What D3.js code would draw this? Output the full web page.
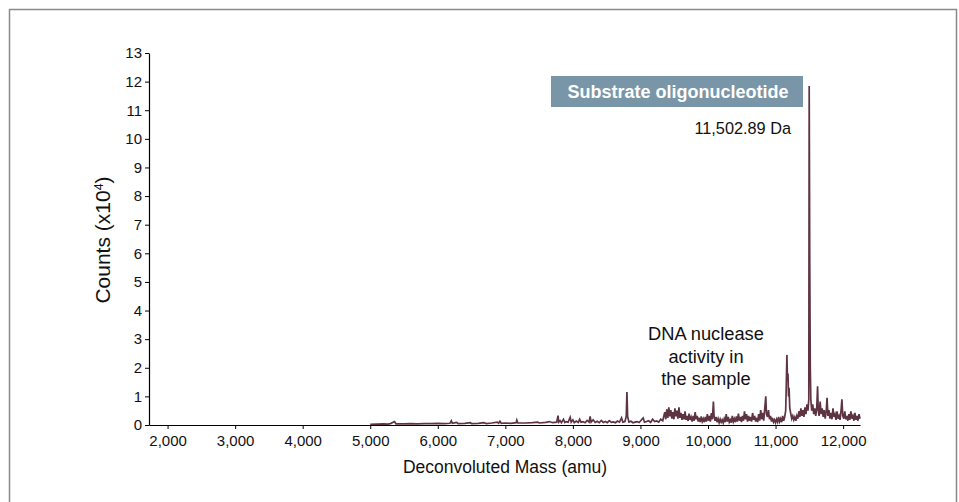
<!DOCTYPE html>
<html>
<head>
    <meta charset="utf-8">
    <script src="https://d3js.org/d3.v7.min.js"></script>
    <style>
        body { margin: 0; background: #fff; }
        svg text { font-family: "Liberation Sans", Arial, sans-serif; }
    </style>
</head>
<body>
    <svg id="chart"></svg>

    <script>
        // Mass spectrum values, counts in units of 10^4
        // flat baseline part, 5,000 - 7,760 amu
        const baselinePts = [
            [5000, 0.02], [5100, 0.03], [5200, 0.04], [5260, 0.03], [5300, 0.05], [5360, 0.12], [5380, 0.04],
            [5500, 0.04], [5600, 0.05], [5700, 0.04], [5800, 0.05], [5900, 0.05], [6000, 0.06], [6100, 0.05],
            [6180, 0.06], [6200, 0.15], [6215, 0.06], [6280, 0.09], [6300, 0.05], [6400, 0.06], [6480, 0.08],
            [6500, 0.05], [6600, 0.06], [6680, 0.08], [6720, 0.05], [6800, 0.07], [6880, 0.1], [6900, 0.06],
            [6920, 0.13], [6940, 0.06], [7000, 0.07], [7080, 0.06], [7160, 0.08], [7170, 0.17], [7185, 0.07],
            [7300, 0.07], [7400, 0.08], [7480, 0.1], [7500, 0.07], [7600, 0.09], [7650, 0.12], [7700, 0.08],
            [7760, 0.1]
        ];
        // low noise, 7,780 - 9,330 amu
        const lowNoisePts = [
            [7780, 0.33], [7790, 0.1], [7810, 0.15], [7830, 0.08], [7860, 0.2], [7880, 0.09], [7900, 0.12],
            [7930, 0.1], [7960, 0.27], [7975, 0.1], [8000, 0.18], [8020, 0.08], [8050, 0.14], [8080, 0.09],
            [8100, 0.2], [8120, 0.1], [8150, 0.12], [8180, 0.08], [8210, 0.16], [8240, 0.1], [8255, 0.3],
            [8270, 0.1], [8300, 0.18], [8330, 0.09], [8360, 0.13], [8390, 0.08], [8420, 0.16], [8450, 0.09],
            [8480, 0.12], [8510, 0.08], [8540, 0.15], [8570, 0.09], [8600, 0.11], [8630, 0.08], [8660, 0.14],
            [8690, 0.1], [8720, 0.25], [8740, 0.1], [8770, 0.12], [8790, 0.3], [8800, 1.15], [8810, 0.3],
            [8830, 0.1], [8860, 0.13], [8890, 0.08], [8920, 0.1], [8950, 0.12], [8980, 0.09], [9000, 0.14],
            [9040, 0.25], [9060, 0.1], [9090, 0.12], [9120, 0.15], [9150, 0.09], [9180, 0.2], [9210, 0.12],
            [9240, 0.14], [9270, 0.1], [9300, 0.2], [9330, 0.15]
        ];
        // busy region, 9,360 - 11,135 amu
        const busyPts = [
            [9360, 0.45], [9375, 0.2], [9390, 0.55], [9405, 0.25], [9420, 0.62], [9435, 0.3], [9450, 0.52],
            [9465, 0.22], [9480, 0.45], [9495, 0.2], [9510, 0.58], [9525, 0.3], [9540, 0.5], [9555, 0.22],
            [9570, 0.62], [9585, 0.25], [9600, 0.42], [9615, 0.18], [9630, 0.38], [9645, 0.2], [9660, 0.48],
            [9675, 0.18], [9690, 0.32], [9705, 0.14], [9720, 0.4], [9735, 0.18], [9750, 0.28], [9765, 0.12],
            [9780, 0.32], [9795, 0.15], [9810, 0.45], [9825, 0.2], [9840, 0.32], [9855, 0.12], [9870, 0.25],
            [9885, 0.1], [9900, 0.3], [9915, 0.12], [9930, 0.22], [9945, 0.1], [9960, 0.28], [9975, 0.12],
            [9990, 0.38], [10005, 0.15], [10020, 0.32], [10035, 0.12], [10050, 0.42], [10065, 0.2], [10080, 0.82],
            [10090, 0.3], [10105, 0.15], [10120, 0.28], [10135, 0.1], [10150, 0.22], [10165, 0.08], [10180, 0.2],
            [10195, 0.1], [10210, 0.18], [10225, 0.08], [10240, 0.22], [10255, 0.1], [10270, 0.38], [10285, 0.12],
            [10300, 0.28], [10315, 0.1], [10330, 0.18], [10345, 0.08], [10360, 0.32], [10375, 0.12], [10390, 0.22],
            [10405, 0.1], [10420, 0.3], [10435, 0.12], [10450, 0.4], [10465, 0.15], [10480, 0.28], [10495, 0.1],
            [10510, 0.32], [10525, 0.15], [10540, 0.48], [10555, 0.2], [10570, 0.38], [10585, 0.12], [10600, 0.32],
            [10615, 0.15], [10630, 0.28], [10645, 0.12], [10660, 0.42], [10675, 0.18], [10690, 0.32], [10705, 0.12],
            [10720, 0.25], [10735, 0.1], [10750, 0.38], [10765, 0.15], [10780, 0.52], [10795, 0.2], [10810, 0.42],
            [10825, 0.15], [10840, 0.58], [10855, 1.0], [10865, 0.4], [10880, 0.28], [10895, 0.52], [10910, 0.2],
            [10925, 0.32], [10940, 0.12], [10955, 0.25], [10970, 0.1], [10985, 0.18], [11000, 0.08], [11015, 0.2],
            [11030, 0.1], [11045, 0.28], [11060, 0.12], [11075, 0.22], [11090, 0.1], [11105, 0.32], [11120, 0.15],
            [11135, 0.28]
        ];
        // nuclease products and substrate peak, 11,150 - 12,250 amu
        const peakPts = [
            [11150, 0.5], [11160, 1.5], [11168, 2.45], [11176, 1.6], [11184, 1.8], [11192, 1.0], [11200, 1.3],
            [11210, 0.6], [11225, 0.4], [11240, 0.22], [11255, 0.32], [11270, 0.18], [11285, 0.28], [11300, 0.15],
            [11315, 0.32], [11330, 0.22], [11345, 0.48], [11360, 0.28], [11375, 0.58], [11390, 0.32], [11405, 0.52],
            [11420, 0.28], [11435, 0.62], [11450, 0.38], [11465, 0.72], [11480, 0.5], [11492, 0.9], [11498, 11.85],
            [11506, 5.7], [11514, 2.0], [11522, 0.9], [11535, 0.5], [11550, 0.72], [11565, 0.38], [11580, 0.58],
            [11595, 0.32], [11610, 0.62], [11622, 1.35], [11632, 0.5], [11645, 0.32], [11660, 0.82], [11675, 0.38],
            [11690, 0.58], [11705, 0.28], [11720, 0.52], [11735, 0.22], [11750, 0.48], [11762, 0.95], [11775, 0.32],
            [11790, 0.52], [11805, 0.22], [11820, 0.42], [11835, 0.2], [11850, 0.58], [11865, 0.28], [11880, 0.38],
            [11895, 0.18], [11910, 0.48], [11925, 0.22], [11940, 0.32], [11955, 0.18], [11970, 0.52], [11982, 0.9],
            [11995, 0.32], [12010, 0.22], [12025, 0.48], [12040, 0.2], [12055, 0.32], [12070, 0.15], [12085, 0.38],
            [12100, 0.18], [12115, 0.48], [12130, 0.22], [12145, 0.32], [12160, 0.15], [12175, 0.42], [12190, 0.18],
            [12205, 0.32], [12220, 0.15], [12235, 0.38], [12250, 0.22]
        ];

        const xTicks = [2000, 3000, 4000, 5000, 6000, 7000, 8000, 9000, 10000, 11000, 12000];
        const yTicks = [0, 1, 2, 3, 4, 5, 6, 7, 8, 9, 10, 11, 12, 13];
        const peakTitle = "Substrate oligonucleotide";
        const peakMass = "11,502.89 Da";
        const noteLines = ["DNA nuclease", "activity in", "the sample"];

        const width = 959;
        const height = 502;
        const svg = d3.select("#chart").attr("width", width).attr("height", height);

        // frame round the figure
        svg.append("path")
            .attr("d", "M9.5,510 L9.5,9.5 L956.5,9.5 L956.5,510")
            .attr("fill", "none")
            .attr("stroke", "#8a8a8a")
            .attr("stroke-width", 1.5);

        const x = d3.scaleLinear().domain([1725, 12250]).range([149, 860]);
        const y = d3.scaleLinear().domain([0, 13]).range([425, 53]);

        // axes
        const xAxis = svg.append("g")
            .attr("transform", "translate(0,425)")
            .call(d3.axisBottom(x).tickValues(xTicks).tickFormat(d3.format(",")).tickSize(4).tickSizeOuter(0));
        const yAxis = svg.append("g")
            .attr("transform", "translate(149,0)")
            .call(d3.axisLeft(y).tickValues(yTicks).tickSize(4).tickSizeOuter(0));

        [xAxis, yAxis].forEach(g => {
            g.select(".domain").attr("stroke", "#000").attr("stroke-width", 1.2);
            g.selectAll(".tick line").attr("stroke", "#000");
            g.selectAll(".tick text")
                .attr("fill", "#111")
                .style("font-family", "'Liberation Sans', Arial, sans-serif")
                .style("font-size", "15px");
        });
        xAxis.selectAll(".tick text").attr("dy", "0.95em");
        yAxis.selectAll(".tick text").attr("x", -7);

        // spectrum
        const spectrum = baselinePts.concat(lowNoisePts, busyPts, peakPts);
        const line = d3.line().x(d => x(d[0])).y(d => y(d[1]));
        svg.append("path")
            .datum(spectrum)
            .attr("d", line)
            .attr("fill", "none")
            .attr("stroke", "#5e3442")
            .attr("stroke-width", 1.7)
            .attr("stroke-linejoin", "miter");

        // axis titles
        svg.append("text")
            .attr("x", 505).attr("y", 473)
            .attr("text-anchor", "middle")
            .style("font-size", "17.5px")
            .attr("fill", "#111")
            .text("Deconvoluted Mass (amu)");

        const yTitle = svg.append("text")
            .attr("transform", "translate(110,240) rotate(-90)")
            .attr("text-anchor", "middle")
            .style("font-size", "21px")
            .attr("fill", "#111");
        yTitle.append("tspan").text("Counts (x10");
        yTitle.append("tspan").attr("baseline-shift", "super").style("font-size", "12.5px").text("4");
        yTitle.append("tspan").text(")");

        // peak label box
        svg.append("rect")
            .attr("x", 551).attr("y", 76)
            .attr("width", 252).attr("height", 31)
            .attr("fill", "#7996a8");
        svg.append("text")
            .attr("x", 678).attr("y", 98)
            .attr("text-anchor", "middle")
            .attr("fill", "#fff")
            .style("font-size", "18px")
            .style("font-weight", "bold")
            .text(peakTitle);
        svg.append("text")
            .attr("x", 791).attr("y", 134)
            .attr("text-anchor", "end")
            .attr("fill", "#111")
            .style("font-size", "16.3px")
            .text(peakMass);

        // nuclease note
        svg.append("g").selectAll("text")
            .data(noteLines)
            .join("text")
            .attr("x", 706)
            .attr("y", (d, i) => 340 + i * 22.5)
            .attr("text-anchor", "middle")
            .attr("fill", "#111")
            .style("font-size", "18.3px")
            .text(d => d);
    </script>
</body>
</html>
